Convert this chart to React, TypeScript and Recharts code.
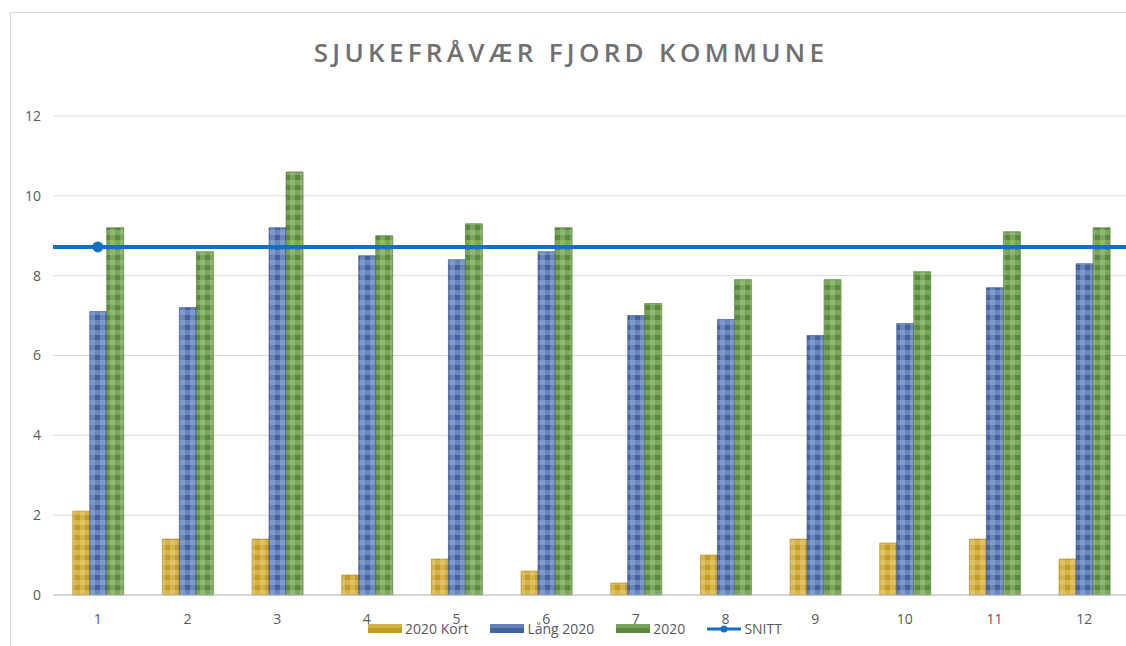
import React from 'react';
import { ComposedChart, Bar, Line, XAxis, YAxis, CartesianGrid, Legend, ReferenceLine } from 'recharts';

const months = ['1', '2', '3', '4', '5', '6', '7', '8', '9', '10', '11', '12'];
const kort = [2.1, 1.4, 1.4, 0.5, 0.9, 0.6, 0.3, 1.0, 1.4, 1.3, 1.4, 0.9];
const lang = [7.1, 7.2, 9.2, 8.5, 8.4, 8.6, 7.0, 6.9, 6.5, 6.8, 7.7, 8.3];
const total = [9.2, 8.6, 10.6, 9.0, 9.3, 9.2, 7.3, 7.9, 7.9, 8.1, 9.1, 9.2];
const snitt = [8.72, 8.72, 8.72, 8.72, 8.72, 8.72, 8.72, 8.72, 8.72, 8.72, 8.72, 8.72];
const yTicks = [0, 2, 4, 6, 8, 10, 12];

const title = 'SJUKEFRÅVÆR FJORD KOMMUNE';
const seriesNames = { kort: '2020 Kort', lang: 'Lång 2020', total: '2020', snitt: 'SNITT' };

const data = months.map((m, i) => ({
  month: m,
  kort: kort[i],
  lang: lang[i],
  total: total[i],
  snitt: snitt[i],
}));

const palette = {
  kort: { dark: '#c39b25', light: '#efd889', edge: '#a8841c' },
  lang: { dark: '#42629f', light: '#a3b9e4', edge: '#2f4d86' },
  total: { dark: '#5a893c', light: '#b0d190', edge: '#466f2e' },
  snitt: '#1070c4',
};

const Plaid = ({ id, dark, light }: { id: string; dark: string; light: string }) => (
  <pattern id={id} patternUnits="userSpaceOnUse" width={10} height={10}>
    <rect x={0} y={0} width={10} height={10} fill={dark} />
    <rect x={0} y={0} width={10} height={5} fill={light} opacity={0.4} />
    <rect x={0} y={0} width={5} height={10} fill={light} opacity={0.4} />
  </pattern>
);

const LegendContent = () => {
  const items = [
    { name: seriesNames.kort, type: 'bar', color: palette.kort.dark, light: palette.kort.light },
    { name: seriesNames.lang, type: 'bar', color: palette.lang.dark, light: palette.lang.light },
    { name: seriesNames.total, type: 'bar', color: palette.total.dark, light: palette.total.light },
    { name: seriesNames.snitt, type: 'line', color: palette.snitt, light: palette.snitt },
  ];
  return (
    <div style={{ display: 'flex', justifyContent: 'center', alignItems: 'center', gap: 22, fontFamily: '"Open Sans", sans-serif', fontSize: 14, color: '#595959' }}>
      {items.map((it) => (
        <div key={it.name} style={{ display: 'flex', alignItems: 'center', gap: 3 }}>
          {it.type === 'bar' ? (
            <svg width={34} height={9}>
              <rect x={0} y={0} width={34} height={9} fill={it.color} />
              <rect x={0} y={0} width={34} height={4} fill={it.light} opacity={0.35} />
            </svg>
          ) : (
            <svg width={34} height={10}>
              <line x1={0} y1={5} x2={34} y2={5} stroke={it.color} strokeWidth={3} />
              <circle cx={17} cy={5} r={3.5} fill={it.color} />
            </svg>
          )}
          <span>{it.name}</span>
        </div>
      ))}
    </div>
  );
};

const SnittDot = (props: any) => {
  const { cx, cy, index } = props;
  if (index !== 0) return <g key={`d${index}`} />;
  return <circle key={`d${index}`} cx={cx} cy={cy} r={5.5} fill={palette.snitt} />;
};

export default function App() {
  return (
    <div style={{ position: 'absolute', left: 0, top: 0, width: 1126, height: 646, overflow: 'hidden', background: '#fff' }}>
      <div style={{ position: 'absolute', left: 10, top: 12, width: 1130, height: 640, border: '1px solid #d9d9d9', boxSizing: 'border-box' }} />
      <div
        style={{
          position: 'absolute',
          top: 34,
          left: 0,
          width: 1142,
          textAlign: 'center',
          fontFamily: '"Open Sans", sans-serif',
          fontWeight: 600,
          fontSize: 26,
          letterSpacing: 4.3,
          color: '#707070',
        }}
      >
        {title}
      </div>
      <div style={{ position: 'absolute', left: 0, top: 0 }}>
        <ComposedChart
          width={1130}
          height={646}
          data={data}
          margin={{ top: 116, right: 1, bottom: 0, left: 0 }}
          barCategoryGap="22%"
          barGap={0}
        >
          <defs>
            <Plaid id="pKort" dark={palette.kort.dark} light={palette.kort.light} />
            <Plaid id="pLang" dark={palette.lang.dark} light={palette.lang.light} />
            <Plaid id="pTotal" dark={palette.total.dark} light={palette.total.light} />
          </defs>
          <CartesianGrid vertical={false} stroke="#d9d9d9" />
          <XAxis
            dataKey="month"
            height={51}
            tickLine={false}
            axisLine={{ stroke: '#bfbfbf' }}
            tick={{ fill: '#595959', fontSize: 14, fontFamily: '"Open Sans", sans-serif' }}
            tickMargin={13}
          />
          <YAxis
            width={53}
            domain={[0, 12]}
            ticks={yTicks}
            tickLine={false}
            axisLine={false}
            tickSize={0}
            tickMargin={12}
            tick={{ fill: '#595959', fontSize: 14, fontFamily: '"Open Sans", sans-serif' }}
          />
          <Legend
            verticalAlign="middle"
            layout="horizontal"
            content={<LegendContent />}
            wrapperStyle={{ position: 'absolute', top: 619, left: 0, width: 1150 }}
          />
          <Bar dataKey="kort" name={seriesNames.kort} fill="url(#pKort)" stroke={palette.kort.edge} strokeWidth={0.6} isAnimationActive={false} />
          <Bar dataKey="lang" name={seriesNames.lang} fill="url(#pLang)" stroke={palette.lang.edge} strokeWidth={0.6} isAnimationActive={false} />
          <Bar dataKey="total" name={seriesNames.total} fill="url(#pTotal)" stroke={palette.total.edge} strokeWidth={0.6} isAnimationActive={false} />
          <ReferenceLine y={snitt[0]} stroke={palette.snitt} strokeWidth={4} ifOverflow="extendDomain" />
          <Line
            dataKey="snitt"
            name={seriesNames.snitt}
            stroke={palette.snitt}
            strokeWidth={4}
            dot={<SnittDot />}
            activeDot={false}
            isAnimationActive={false}
          />
        </ComposedChart>
      </div>
    </div>
  );
}
